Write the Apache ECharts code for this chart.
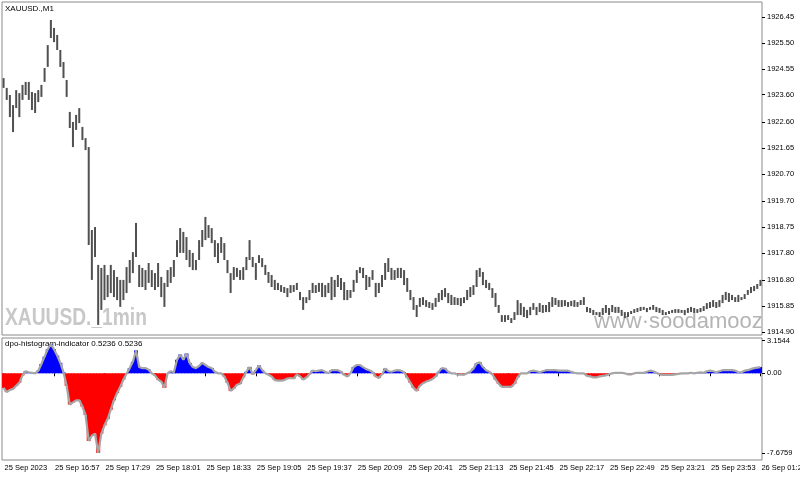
<!DOCTYPE html>
<html><head><meta charset="utf-8">
<script src="https://cdn.jsdelivr.net/npm/echarts@6/dist/echarts.min.js"></script>
<style>html,body{margin:0;padding:0;background:#fff}#c{width:800px;height:477px}</style>
</head><body><div id="c"></div>
<script>
const timeLabels = ['25 Sep 2023','25 Sep 16:57','25 Sep 17:29','25 Sep 18:01','25 Sep 18:33','25 Sep 19:05','25 Sep 19:37','25 Sep 20:09','25 Sep 20:41','25 Sep 21:13','25 Sep 21:45','25 Sep 22:17','25 Sep 22:49','25 Sep 23:21','25 Sep 23:53','26 Sep 01:26'];
const priceTicks = [1914.90,1915.85,1916.80,1917.80,1918.75,1919.70,1920.70,1921.65,1922.60,1923.60,1924.55,1925.50,1926.45];
const dpoTicks = [-7.6759, 0, 3.1544];
const highs = [
1924.21,1923.85,1923.59,1923.22,1923.77,1923.66,1923.96,1924.07,1924.07,1923.70,
1923.66,1923.77,1923.96,1924.58,1925.42,1926.34,1926.05,1925.79,1925.24,1924.80,
1924.14,1922.97,1922.60,1922.86,1923.11,1922.42,1922.01,1921.68,1918.64,1918.75,
1917.36,1917.25,1917.36,1916.99,1917.36,1917.17,1916.92,1916.81,1916.81,1917.28,
1917.54,1917.83,1918.90,1917.36,1917.25,1917.17,1917.43,1917.17,1917.06,1917.43,
1916.92,1916.70,1917.17,1917.28,1917.54,1918.27,1918.71,1918.57,1918.38,1917.91,
1917.80,1917.54,1918.27,1918.64,1919.12,1918.82,1918.71,1918.27,1918.16,1918.38,
1918.16,1917.54,1917.06,1917.28,1917.25,1917.17,1917.28,1917.65,1918.27,1917.65,
1917.43,1917.72,1917.61,1917.36,1917.10,1916.99,1916.81,1916.70,1916.62,1916.55,
1916.51,1916.62,1916.62,1916.70,1916.37,1916.18,1916.18,1916.44,1916.70,1916.62,
1916.70,1916.70,1916.62,1916.70,1916.92,1916.81,1916.99,1916.88,1916.73,1916.44,
1916.44,1916.81,1917.17,1917.28,1917.25,1916.99,1916.92,1917.17,1916.70,1916.70,
1916.99,1917.43,1917.61,1917.25,1917.17,1917.25,1917.25,1917.17,1916.88,1916.44,
1916.18,1915.89,1916.15,1916.18,1916.07,1916.00,1915.96,1916.15,1916.33,1916.44,
1916.51,1916.33,1916.26,1916.18,1916.15,1916.15,1916.18,1916.44,1916.55,1916.62,
1917.17,1917.25,1917.10,1916.81,1916.70,1916.51,1916.33,1915.89,1915.52,1915.52,
1915.52,1915.41,1915.63,1916.07,1915.96,1915.82,1915.71,1915.82,1915.96,1915.82,
1915.96,1915.89,1915.89,1916.00,1916.18,1916.15,1916.07,1916.07,1916.07,1916.00,
1916.04,1916.07,1916.00,1916.07,1916.18,1915.82,1915.78,1915.71,1915.63,1915.63,
1915.78,1915.89,1915.78,1915.89,1915.82,1915.82,1915.71,1915.63,1915.63,1915.67,
1915.74,1915.78,1915.82,1915.82,1915.78,1915.82,1915.89,1915.82,1915.78,1915.71,
1915.63,1915.67,1915.71,1915.74,1915.74,1915.71,1915.71,1915.78,1915.82,1915.78,
1915.74,1915.78,1915.85,1915.96,1916.00,1916.07,1916.00,1916.07,1916.26,1916.37,
1916.33,1916.26,1916.18,1916.26,1916.18,1916.29,1916.44,1916.55,1916.59,1916.66,
1916.81];
const lows = [
1923.85,1923.41,1922.78,1922.23,1923.11,1922.78,1923.41,1923.59,1923.41,1923.04,
1922.93,1923.33,1923.52,1924.07,1924.62,1925.68,1925.53,1925.24,1924.62,1924.21,
1923.52,1922.38,1921.68,1922.31,1922.56,1921.94,1921.57,1918.09,1916.81,1917.65,
1915.16,1915.71,1916.07,1916.18,1916.33,1916.18,1916.07,1915.82,1916.07,1916.33,
1916.70,1917.06,1917.65,1916.55,1916.55,1916.44,1916.70,1916.55,1916.44,1916.55,
1916.18,1915.82,1916.55,1916.70,1916.92,1917.65,1917.80,1917.80,1917.54,1917.28,
1917.17,1917.17,1917.54,1918.02,1918.27,1918.35,1918.16,1917.65,1917.43,1917.80,
1917.54,1917.06,1916.33,1916.81,1916.92,1916.81,1916.81,1917.17,1917.54,1917.28,
1916.81,1917.43,1917.28,1916.99,1916.70,1916.55,1916.44,1916.44,1916.37,1916.33,
1916.18,1916.33,1916.37,1916.44,1916.07,1915.71,1915.96,1916.07,1916.33,1916.33,
1916.37,1916.18,1916.18,1916.33,1916.07,1916.18,1916.55,1916.44,1916.07,1916.07,
1916.15,1916.37,1916.70,1917.06,1916.88,1916.44,1916.55,1916.81,1916.18,1916.33,
1916.55,1916.81,1917.10,1916.81,1916.81,1916.88,1916.88,1916.62,1916.37,1916.07,
1915.71,1915.45,1915.82,1915.89,1915.82,1915.78,1915.71,1915.82,1916.00,1916.07,
1916.18,1915.96,1915.89,1915.89,1915.89,1915.85,1915.96,1916.07,1916.18,1916.26,
1916.55,1916.92,1916.62,1916.51,1916.44,1916.15,1915.82,1915.60,1915.27,1915.27,
1915.34,1915.23,1915.34,1915.52,1915.52,1915.45,1915.41,1915.52,1915.71,1915.52,
1915.63,1915.60,1915.63,1915.63,1915.82,1915.89,1915.82,1915.82,1915.85,1915.82,
1915.85,1915.82,1915.82,1915.89,1915.89,1915.63,1915.60,1915.52,1915.52,1915.45,
1915.52,1915.60,1915.52,1915.63,1915.60,1915.60,1915.49,1915.41,1915.45,1915.56,
1915.60,1915.63,1915.67,1915.71,1915.63,1915.71,1915.71,1915.63,1915.60,1915.52,
1915.52,1915.56,1915.60,1915.60,1915.60,1915.60,1915.52,1915.60,1915.63,1915.60,
1915.60,1915.63,1915.67,1915.74,1915.78,1915.82,1915.78,1915.82,1915.96,1916.07,
1916.00,1916.07,1916.00,1916.00,1916.07,1916.11,1916.26,1916.33,1916.40,1916.48,
1916.59];
const dpo = [
-1.4,-1.8,-1.6,-1.5,-1.2,-0.9,-0.2,0.2,0.1,0.05,
0.0,0.25,0.9,1.6,2.3,2.8,2.3,1.7,1.0,0.1,
-1.2,-3.0,-2.8,-2.6,-2.6,-3.2,-4.0,-6.5,-6.0,-5.8,
-7.65,-5.8,-5.0,-4.4,-3.5,-2.6,-1.9,-1.3,-0.6,-0.05,
0.5,1.1,2.2,0.6,0.5,0.5,0.35,0.0,-0.2,-0.6,
-0.8,-1.4,0.0,0.2,0.1,1.3,1.8,1.3,1.9,1.0,
0.6,0.5,0.7,1.0,0.8,0.6,0.5,0.15,0.0,0.0,
-0.3,-0.9,-1.7,-1.45,-1.1,-1.0,-0.4,0.15,0.6,-0.1,
0.3,0.75,0.3,0.0,-0.15,-0.3,-0.65,-0.7,-0.7,-0.65,
-0.5,-0.45,-0.5,-0.1,-0.3,-0.6,-0.4,-0.1,0.25,0.2,
0.25,0.3,0.15,0.0,0.3,0.3,0.3,0.15,-0.15,-0.3,
0.0,0.6,0.8,0.8,0.6,0.4,0.3,0.1,-0.3,-0.45,
-0.1,0.45,0.2,0.15,0.25,0.3,0.25,0.1,-0.4,-0.9,
-1.4,-1.7,-1.2,-0.95,-0.8,-0.7,-0.55,-0.3,0.15,0.5,
0.45,0.15,0.0,0.0,-0.15,-0.1,-0.15,0.0,0.15,0.45,
0.95,1.05,0.6,0.3,0.15,-0.1,-0.6,-1.0,-1.3,-1.3,
-1.3,-1.3,-1.0,-0.4,0.0,0.0,0.0,0.2,0.25,0.2,
0.1,0.2,0.3,0.3,0.3,0.3,0.25,0.25,0.25,0.25,
0.15,0.05,0.0,0.0,0.0,-0.25,-0.3,-0.4,-0.4,-0.3,
-0.25,-0.2,-0.1,0.0,0.05,0.05,0.05,0.0,-0.1,-0.1,
0.0,0.05,0.05,0.05,0.15,0.25,0.2,0.05,-0.1,-0.15,
-0.15,-0.15,-0.15,-0.1,-0.05,0.0,0.0,0.0,0.05,0.0,
0.05,0.1,0.05,0.2,0.25,0.2,0.1,0.2,0.3,0.3,
0.3,0.3,0.25,0.1,0.1,0.25,0.3,0.4,0.5,0.55,
0.6];

const cats = highs.map((_, i) => String(i));
const FONT = 'Liberation Sans';
const chart = echarts.init(document.getElementById('c'), null, {renderer: 'canvas'});
chart.setOption({
  animation: false,
  backgroundColor: '#ffffff',
  grid: [
    {left: 2, right: 38, top: 2, height: 333, outerBoundsMode: 'none', containLabel: false, show: true, borderColor: '#8a8a8a', borderWidth: 1, backgroundColor: 'transparent'},
    {left: 2, right: 38, top: 338, height: 122, outerBoundsMode: 'none', containLabel: false, show: true, borderColor: '#8a8a8a', borderWidth: 1, backgroundColor: 'transparent'}
  ],
  xAxis: [
    {type: 'category', gridIndex: 0, data: cats, boundaryGap: true, show: false},
    {type: 'category', gridIndex: 1, data: cats, boundaryGap: true,
     axisLine: {show: false},
     axisTick: {show: true, alignWithLabel: true, interval: 15, length: 3, lineStyle: {color: '#000'}},
     axisLabel: {show: true, interval: 15, align: 'left', margin: 4, padding: [0,0,0,1], color: '#000', fontSize: 7.5, fontFamily: FONT,
       hideOverlap: false,
       formatter: (v, idx) => timeLabels[Math.round(idx / 16)] || ''},
     splitLine: {show: false}}
  ],
  yAxis: [
    {type: 'value', gridIndex: 0, position: 'right', min: 1914.79, max: 1927.00, scale: true,
     axisLine: {show: false}, splitLine: {show: false},
     axisTick: {show: true, customValues: priceTicks, length: 3, lineStyle: {color: '#000'}},
     axisLabel: {show: true, customValues: priceTicks, margin: 5, color: '#000', fontSize: 7.5, fontFamily: FONT,
       formatter: v => Number(v).toFixed(2)}},
    {type: 'value', gridIndex: 1, position: 'right', min: -8.337, max: 3.394,
     axisLine: {show: false}, splitLine: {show: false},
     axisTick: {show: true, customValues: dpoTicks, length: 3, lineStyle: {color: '#000'}},
     axisLabel: {show: true, customValues: dpoTicks, margin: 5, color: '#000', fontSize: 7.5, fontFamily: FONT,
       formatter: v => (Number(v) === 0 ? '0.00' : Number(v).toFixed(4))}}
  ],
  graphic: [
    {type: 'text', left: 5, top: 5, z: 1, style: {text: 'XAUUSD.,M1', fontSize: 8, fontFamily: FONT, fill: '#000'}},
    {type: 'text', x: 5, y: 306, scaleX: 0.8, z: 1, style: {text: 'XAUUSD._1min', fontSize: 24, fontWeight: 'bold', fontFamily: FONT, fill: '#c8c8c8'}},
    {type: 'text', left: 594, top: 311, z: 1, style: {text: 'www·soodamooz', fontSize: 22, fontFamily: FONT, fill: '#b4b4b4'}},
    {type: 'text', left: 5, top: 340, z: 1, style: {text: 'dpo-histogram-indicator 0.5236 0.5236', fontSize: 8, fontFamily: FONT, fill: '#000'}}
  ],
  series: [
    {type: 'custom', xAxisIndex: 0, yAxisIndex: 0, z: 5,
     data: highs.map((h, i) => [i, h, lows[i]]),
     encode: {x: 0, y: [1, 2]},
     renderItem: (params, api) => {
       const top = api.coord([api.value(0), api.value(1)]);
       const bot = api.coord([api.value(0), api.value(2)]);
       return {type: 'rect', shape: {x: top[0] - 1, y: top[1], width: 2, height: Math.max(1, bot[1] - top[1])},
               style: {fill: '#505050'}};
     }},
    {type: 'bar', xAxisIndex: 1, yAxisIndex: 1, z: 3, barWidth: 4, barGap: '-100%',
     data: dpo.map(v => ({value: v, itemStyle: {color: v < 0 ? '#ff0000' : '#0000ff'}}))},
    {type: 'line', xAxisIndex: 1, yAxisIndex: 1, z: 4, data: dpo, symbol: 'none',
     lineStyle: {color: '#a6a6a6', width: 2.2}}
  ]
});
</script></body></html>
